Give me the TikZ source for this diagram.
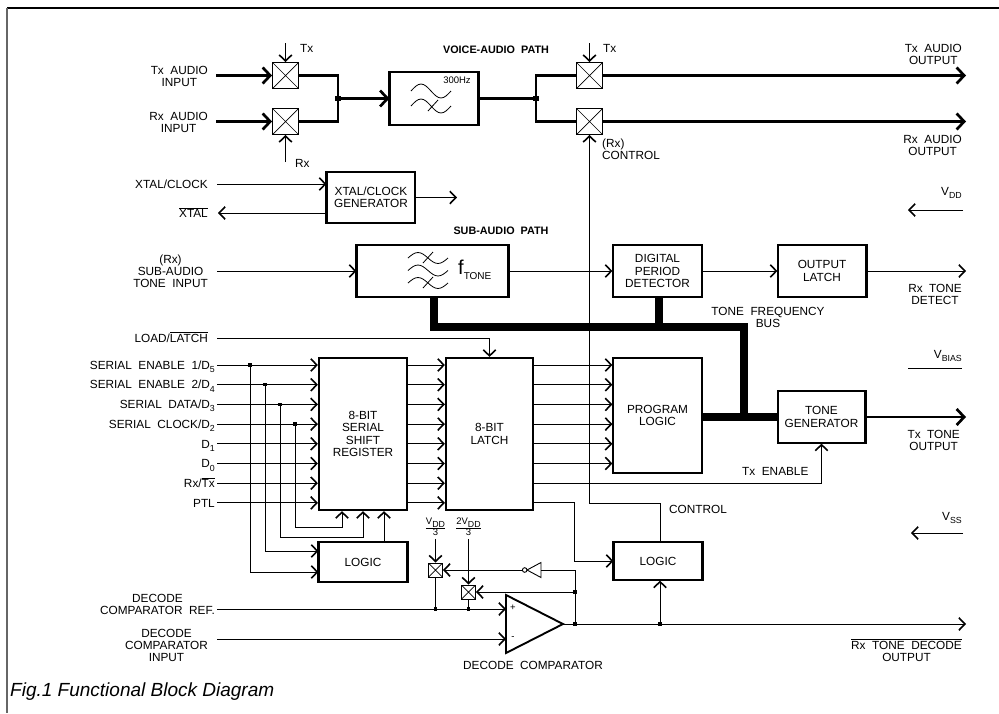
\documentclass[tikz,border=0pt]{standalone}
\usepackage{fontspec}
\setmainfont{Liberation Sans}
\usetikzlibrary{arrows.meta,calc}
\newcommand\sbs[1]{\raisebox{-0.28em}{\fontsize{8.8}{8.8}\selectfont #1}}
\newcommand\ovl[1]{$\overline{\hbox{#1}}$}
\newcommand\ffrac[2]{\begin{tabular}{@{}c@{}}#1\rule[-3.2pt]{0pt}{3.2pt}\\\hline\rule{0pt}{7.6pt}#2\end{tabular}}
\begin{document}
\begin{tikzpicture}[x=1pt,y=-1pt,
  lbl/.style={inner sep=0pt, font=\fontsize{11.8}{12}\selectfont, align=center},
  rl/.style={lbl, anchor=east, text height=8.5pt, text depth=0pt},
  blk/.style={draw, line width=1.2pt, inner sep=0pt, font=\fontsize{11.8}{12.3}\selectfont, align=center},
  hblk/.style={blk, line width=2.2pt},
  ln/.style={line width=0.9pt},
  ar/.style={ln, -{Straight Barb[length=6pt,width=12.5pt,line width=1.6pt]}},
  thk/.style={line width=2.7pt, line join=miter},
  tar/.style={thk, -{Straight Barb[length=7.5pt,width=16pt,line width=2.7pt]}},
  bus/.style={line width=8.5pt, line join=miter},
  edge/.style={line width=2.4pt},
  sw/.style={draw, line width=0.9pt, minimum size=26pt, inner sep=0pt,
    path picture={\draw[line width=0.7pt] (path picture bounding box.north west) -- (path picture bounding box.south east) (path picture bounding box.north east) -- (path picture bounding box.south west);}},
  ssw/.style={sw, minimum size=14pt},
  dot/.style={fill, rectangle, inner sep=0pt, minimum size=3.5pt},
  bdot/.style={dot, minimum size=5.5pt},
  wave/.style={line width=0.8pt}
]
\useasboundingbox (0,0) rectangle (999,713);
% frame
\draw[line width=1.4pt] (7,8) -- (999,8);
\draw[line width=1.4pt, black!60] (7,8) -- (7,713);

% ---------------- voice-audio path ----------------
\node[lbl, font=\fontsize{10.8}{11}\selectfont\bfseries] (vap) at (496,50) {VOICE-AUDIO~~PATH};
\node[lbl,anchor=east] (txin) at (208,76) {Tx~~AUDIO\\INPUT};
\node[lbl,anchor=east] (rxin) at (208,122.5) {Rx~~AUDIO\\INPUT};
\node[sw] (S1) at (285.5,75.5) {};
\node[sw] (S2) at (285.5,121.5) {};
\node[sw] (S3) at (589.5,75.5) {};
\node[sw] (S4) at (589.5,121.5) {};
\node[blk, minimum width=88pt, minimum height=53pt] (F1) at (434,98.5) {};
\draw[edge] (F1.north west) -- (F1.south west);
\draw[edge] (F1.north east) -- (F1.south east);
\node[lbl, font=\fontsize{9.5}{10}\selectfont] (hz) at (457,80) {300Hz};
\draw[wave] (411,91) sin (421,84) cos (431,91) sin (441,98) cos (451,91);
\draw[wave] (411,106) sin (421,99) cos (431,106) sin (441,113) cos (451,106);
\draw[wave] (428,111) -- (438,100);

\draw[tar] ([xshift=8pt]txin.east |- S1.west) -- (S1.west);
\draw[tar] ([xshift=8pt]rxin.east |- S2.west) -- (S2.west);
\coordinate (s1t) at (285.5,43);
\coordinate (s2b) at (285.5,162);
\draw[ar] (s1t) -- (S1.north);
\draw[ar] (s2b) -- (S2.south);
\node[lbl, anchor=west] (tx1) at (300,48) {Tx};
\node[lbl, anchor=west] (rx1) at (295,163) {Rx};
\node[bdot] (j1) at (338,98.5) {};
\draw[thk] (S1.east) -| (j1.center) |- (S2.east);
\draw[tar] (j1.center) -- (F1.west);
\node[bdot] (j2) at (536,98.5) {};
\draw[thk] (F1.east) -- (j2.center);
\draw[thk] (S3.west) -| (j2.center) |- (S4.west);
\coordinate (s3t) at (589.5,43);
\draw[ar] (s3t) -- (S3.north);
\node[lbl, anchor=west] (tx3) at (603,48) {Tx};
\coordinate (o1) at (966,75.5);
\coordinate (o2) at (966,121.5);
\draw[tar] (S3.east) -- (o1);
\draw[tar] (S4.east) -- (o2);
\node[lbl,anchor=east] (txo) at (962,54) {Tx~~AUDIO\\OUTPUT};
\node[lbl,anchor=east] (rxo) at (962,145) {Rx~~AUDIO\\OUTPUT};
\node[lbl,anchor=west,align=left] (rxc) at (602,149) {(Rx)\\CONTROL};

% ---------------- xtal ----------------
\node[rl,anchor=east] (xclk) at (208,184) {XTAL/CLOCK};
\node[rl,anchor=east] (xbar) at (208,213) {\ovl{XTAL}};
\node[blk, minimum width=88pt, minimum height=51pt] (XG) at (371,197.5) {XTAL/CLOCK\\GENERATOR};
\draw[edge] (XG.north west) -- (XG.south west);
\draw[ar] ([xshift=9pt]xclk.east) -- (XG.west |- xclk.east);
\draw[ar] (XG.west |- xbar.east) -- ([xshift=10pt]xbar.east);
\coordinate (xo) at (457,197.5);
\draw[ar] (XG.east) -- (xo);
\node[lbl,anchor=east] (vdd) at (962,193) {V\sbs{DD}};
\coordinate (vdda) at (963,210);
\coordinate (vddb) at (908,210);
\draw[ar] (vdda) -- (vddb);

% ---------------- sub-audio path ----------------
\node[lbl, font=\fontsize{10.8}{11}\selectfont\bfseries] (sap) at (501,231) {SUB-AUDIO~~PATH};
\node[lbl,anchor=east] (subin) at (208,271) {(Rx)\\SUB-AUDIO\\TONE~~INPUT};
\node[blk, minimum width=151pt, minimum height=52pt] (F2) at (432.5,271) {};
\draw[edge] (F2.north west) -- (F2.south west);
\draw[edge] (F2.north east) -- (F2.south east);
\draw[wave] (408,258) sin (418,252.5) cos (428,258) sin (438,263.5) cos (448,258);
\draw[wave] (408,270.5) sin (418,265) cos (428,270.5) sin (438,276) cos (448,270.5);
\draw[wave] (408,283) sin (418,277.5) cos (428,283) sin (438,288.5) cos (448,283);
\draw[wave] (423,263) -- (433,252);
\draw[wave] (423,288) -- (433,277);
\node[lbl, anchor=west] (ft) at (458,270) {\fontsize{20}{20}\selectfont f\raisebox{-5pt}{\fontsize{10}{10}\selectfont TONE}};
\node[blk, minimum width=89pt, minimum height=52pt] (DPD) at (657.5,271) {DIGITAL\\PERIOD\\DETECTOR};
\node[blk, minimum width=88pt, minimum height=52pt] (OL) at (822,271) {OUTPUT\\LATCH};
\draw[line width=1.8pt] (OL.north west) -- (OL.south west) (OL.north east) -- (OL.south east);
\draw[ar] ([xshift=9pt]subin.east) -- (F2.west);
\draw[ar] (F2.east) -- (DPD.west);
\draw[ar] (DPD.east) -- (OL.west);
\coordinate (o3) at (966,271);
\draw[ar] (OL.east) -- (o3);
\node[lbl,anchor=east] (rtd) at (962,294) {Rx~~TONE\\DETECT};

% tone frequency bus
\coordinate (b1) at (434,327);
\coordinate (b2) at (744,327);
\coordinate (b3) at (744,421);
\coordinate (b4) at (659,327);
\draw[bus] (F2.south -| b1) -- (b1) -- (b2) -- (b3);
\draw[bus] (DPD.south -| b4) -- (b4);
\node[lbl] (tfb) at (768,317) {TONE~~FREQUENCY\\BUS};

% ---------------- registers ----------------
\node[rl] (load) at (208,338) {LOAD/\ovl{LATCH}};
\node[hblk, minimum width=88pt, minimum height=152pt] (SR) at (363,434) {8-BIT\\SERIAL\\SHIFT\\REGISTER};
\node[hblk, minimum width=87pt, minimum height=152pt] (LT) at (489.5,434) {8-BIT\\LATCH};
\node[blk, minimum width=89pt, minimum height=115pt] (PL) at (657.5,415.5) {PROGRAM\\LOGIC};
\node[blk, minimum width=87pt, minimum height=52pt] (TG) at (821.5,417) {TONE\\GENERATOR};
\draw[line width=1.8pt] (TG.north east) -- (TG.south east);
\draw[ar] ([xshift=9pt]load.east) -| (LT.north);

\node[rl] (in0) at (215,365) {SERIAL~~ENABLE~~1/D\sbs{5}};
\node[rl] (in1) at (215,384.7) {SERIAL~~ENABLE~~2/D\sbs{4}};
\node[rl] (in2) at (215,404.4) {SERIAL~~DATA/D\sbs{3}};
\node[rl] (in3) at (215,424.1) {SERIAL~~CLOCK/D\sbs{2}};
\node[rl] (in4) at (215,443.8) {D\sbs{1}};
\node[rl] (in5) at (215,463.5) {D\sbs{0}};
\node[rl] (in6) at (215,483.2) {Rx/\ovl{Tx}};
\node[rl] (in7) at (215,502.9) {PTL};
\foreach \i in {0,...,7} {
  \draw[ar] ([xshift=2pt]in\i.east) -- (SR.west |- in\i.east);
  \draw[ar] (SR.east |- in\i.east) -- (LT.west |- in\i.east);
}
\foreach \i in {0,...,5} {
  \draw[ar] (LT.east |- in\i.east) -- (PL.west |- in\i.east);
}
\draw[ar] (LT.east |- in6.east) -| (TG.south);
\node[lbl, anchor=west] (txen) at (742,471) {Tx~~ENABLE};
\draw[bus] (PL.east |- TG.west) -- (TG.west);
\coordinate (tto1) at (966,417);
\draw[tar] (TG.east) -- (tto1);
\node[lbl,anchor=east] (tto) at (960,440) {Tx~~TONE\\OUTPUT};
\node[lbl,anchor=east] (vbias) at (962,356) {V\sbs{BIAS}};
\coordinate (vb1) at (908,368);
\coordinate (vb2) at (962,368);
\draw[ln] (vb1) -- (vb2);

% taps and logic
\node[dot] (t0) at (250,0 |- in0.east) {};
\node[dot] (t1) at (265,0 |- in1.east) {};
\node[dot] (t2) at (280,0 |- in2.east) {};
\node[dot] (t3) at (295,0 |- in3.east) {};
\node[blk, minimum width=88pt, minimum height=40pt] (L1) at (363,562) {LOGIC};
\draw[edge] (L1.north west) -- (L1.south west);
\draw[edge] (L1.north east) -- (L1.south east);
\draw[ar] (t0.center) |- ($(L1.west)+(0,10)$);
\draw[ar] (t1.center) |- ($(L1.west)+(0,-11)$);
\draw[ar] (t2.center) |- ($(SR.south)+(0,26)$) -- (SR.south);
\draw[ar] (t3.center) |- ($(SR.south)+(-21,16)$) -- ($(SR.south)+(-21,0)$);
\draw[ar] ($(L1.north)+(21,0)$) -- ($(SR.south)+(21,0)$);

% logic 2 and control
\node[blk, minimum width=88pt, minimum height=38pt] (L2) at (658,561) {LOGIC};
\draw[edge] (L2.north west) -- (L2.south west);
\draw[edge] (L2.north east) -- (L2.south east);
\coordinate (k7) at (574,502.9);
\draw[ar] (LT.east |- in7.east) -- (k7) |- (L2.west);
\coordinate (c1) at (660,503);
\coordinate (c2) at (589.5,503);
\draw[ar] ($(L2.north)+(2,0)$) -- (c1) -- (c2) -- (S4.south);
\node[lbl, anchor=west] (ctl) at (669,509) {CONTROL};
\node[lbl,anchor=east] (vss) at (962,518) {V\sbs{SS}};
\coordinate (vss1) at (963,533);
\coordinate (vss2) at (911,533);
\draw[ar] (vss1) -- (vss2);

% ---------------- decode comparator ----------------
\coordinate (cmpP) at (506,609);
\coordinate (cmpM) at (506,639);
\coordinate (cmpO) at (563,624);
\draw[line width=1.9pt, line join=miter] (506,595) -- (cmpO) -- (506,653) -- cycle;
\node[lbl, font=\fontsize{9.5}{9.5}\selectfont] (plus) at (513,608) {+};
\node[lbl, font=\fontsize{9.5}{9.5}\selectfont] (minus) at (513,638) {-};
\node[lbl,anchor=east] (ref) at (215,604) {DECODE\\COMPARATOR~~REF.};
\node[lbl,anchor=east] (dci) at (208,645) {DECODE\\COMPARATOR\\INPUT};
\draw[ar] ($(ref.east |- cmpP)+(2,0)$) -- (cmpP);
\draw[ar] ($(dci.east |- cmpM)+(9,0)$) -- (cmpM);
\node[ssw] (SA) at (435.5,570) {};
\node[ssw] (SB) at (468.5,592) {};
\node[dot] (dA) at (SA |- cmpP) {};
\node[dot] (dB) at (SB |- cmpP) {};
\draw[ln] (SA.south) -- (dA.center);
\draw[ln] (SB.south) -- (dB.center);
\node[lbl, font=\fontsize{9.5}{10}\selectfont] (vA) at (435.5,528) {\ffrac{V\sbs{DD}}{3}};
\node[lbl, font=\fontsize{9.5}{10}\selectfont] (vB) at (468.5,528) {\ffrac{2V\sbs{DD}}{3}};
\draw[ar] (vA.south) -- (SA.north);
\draw[ar] (vB.south) -- (SB.north);
\node[dot] (dO1) at (575,624) {};
\node[dot] (dO2) at (660,624) {};
\coordinate (rto) at (966,624);
\draw[ar] (cmpO) -- (rto);
\draw[ar] (dO2.center) -- (dO2 |- L2.south);
\node[dot] (dF) at (575,592) {};
\coordinate (fbt) at (575,570);
\coordinate (inv) at (541,570);
\coordinate (invo) at (522.4,570);
\draw[ln] (dO1.center) -- (fbt) -- (inv);
\draw[ln] (541,562.5) -- (541,577.5) -- (527,570) -- cycle;
\draw[ln] (524.7,570) circle (2.3);
\draw[ar] (invo) -- (SA.east);
\draw[ar] (dF.center) -- (SB.east);
\node[lbl] (dcl) at (533,665) {DECODE~~COMPARATOR};
\node[lbl,anchor=east] (rtdo) at (962,650) {\ovl{Rx~~TONE~~DECODE}\\OUTPUT};

% caption
\node[anchor=base west, inner sep=0pt, font=\fontsize{19}{20}\selectfont\itshape] (cap) at (10,696) {Fig.1 Functional Block Diagram};
\end{tikzpicture}
\end{document}
